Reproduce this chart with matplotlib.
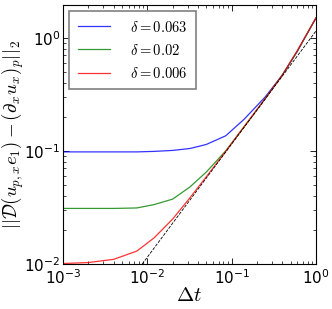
import numpy as np
import matplotlib
matplotlib.use("Agg")
import matplotlib.pyplot as plt

plt.rcParams['mathtext.fontset'] = 'cm'
plt.rcParams['xtick.direction'] = 'in'
plt.rcParams['ytick.direction'] = 'in'
plt.rcParams['xtick.top'] = True
plt.rcParams['ytick.right'] = True

dt = [0.001, 0.002, 0.004, 0.0075, 0.012, 0.02, 0.032, 0.05, 0.085, 0.14, 0.25, 0.4, 0.6, 1.0]
err_063 = [0.098, 0.098, 0.098, 0.098, 0.099, 0.101, 0.105, 0.114, 0.136, 0.19, 0.30, 0.47, 0.76, 1.5]
err_02 = [0.031, 0.031, 0.031, 0.0313, 0.0335, 0.0375, 0.048, 0.065, 0.1, 0.163, 0.29, 0.47, 0.76, 1.5]
err_006 = [0.0101, 0.0103, 0.011, 0.013, 0.017, 0.025, 0.0385, 0.059, 0.099, 0.163, 0.29, 0.47, 0.77, 1.5]
ref_dt = [0.0087, 1.0]
ref_err = [0.01, 1.15]
labels = [r'$\delta = 0.063$', r'$\delta = 0.02$', r'$\delta = 0.006$']

fig = plt.figure(figsize=(3.32, 3.09), dpi=100)
ax = fig.add_axes([63/332, 1-264/309, 253/332, 259/309])
ax.loglog(dt, err_063, color='#0000ff', lw=0.9, alpha=0.8, label=labels[0])
ax.loglog(dt, err_02, color='#008000', lw=0.9, alpha=0.8, label=labels[1])
ax.loglog(dt, err_006, color='#ff0000', lw=0.9, alpha=0.8, label=labels[2])
ax.loglog(ref_dt, ref_err, 'k--', lw=0.6)
ax.set_xlim(1e-3, 1)
ax.set_ylim(1e-2, 1.95)
ax.tick_params(labelsize=11, length=4, width=0.6)
ax.tick_params(which='minor', length=2, width=0.5)
ax.tick_params(axis='x', pad=3)
ax.tick_params(axis='y', pad=2)
for s in ax.spines.values():
    s.set_linewidth(0.8)
ax.set_xlabel(r'$\Delta t$', fontsize=15, labelpad=-1)
ax.set_ylabel(r'$||\mathcal{D}(u_{p,x}e_1) - (\partial_x u_x)_p||_2$', fontsize=13.5,
              va='center')
ax.yaxis.set_label_coords(-0.2, 0.5)
leg = ax.legend(loc='upper left', fontsize=10.5, fancybox=False, framealpha=1,
                edgecolor='gray', handlelength=2.2, handletextpad=1.4, borderaxespad=0.4,
                labelspacing=0.55, borderpad=0.6)
leg.get_frame().set_linewidth(1.2)
fig.savefig('out.png', dpi=100)
